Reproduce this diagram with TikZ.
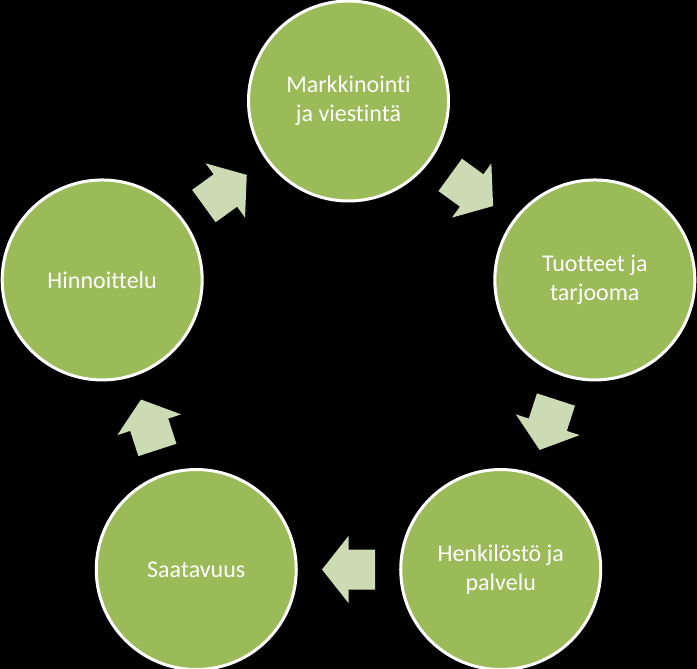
\documentclass[tikz,border=0pt]{standalone}
\usepackage{fontspec}
\setmainfont{Carlito}[Ligatures={NoCommon}]
\usetikzlibrary{calc}
\definecolor{cgreen}{HTML}{9BBB59}
\definecolor{agreen}{HTML}{CDDBB5}
\tikzset{
  stage/.style={circle, minimum size=200pt, inner sep=0pt, fill=cgreen, draw=white, line width=3pt,
    text=white, align=center, font=\fontsize{24}{28.8}\selectfont},
  blockarrow/.style={fill=agreen}
}
\newcommand{\cyclearrow}[2]{%
  \fill[blockarrow, shift={(#1)}, rotate=#2]
    (-26.5pt,20pt) -- (0pt,20pt) -- (0pt,33.5pt) -- (26.5pt,0pt) -- (0pt,-33.5pt) -- (0pt,-20pt) -- (-26.5pt,-20pt) -- cycle;}
\begin{document}
\begin{tikzpicture}[x=1pt,y=1pt]
  \fill[black] (0,0) rectangle (697,669);
  \useasboundingbox (0,0) rectangle (697,669);
  \coordinate (c) at (348.5,309);
  \node[stage] (top) at ($(c)+(90:259)$) {Markkinointi\\ja viestintä};
  \node[stage] (right) at ($(c)+(18:259)$) {Tuotteet ja\\tarjooma};
  \node[stage] (br) at ($(c)+(-54:259)$) {Henkilöstö ja\\palvelu};
  \node[stage] (bl) at ($(c)+(-126:259)$) {Saatavuus};
  \node[stage] (left) at ($(c)+(162:259)$) {Hinnoittelu};
  \coordinate (m1) at ($(top)!0.5!(right)$);
  \coordinate (m2) at ($(right)!0.5!(br)$);
  \coordinate (m3) at ($(br)!0.5!(bl)$);
  \coordinate (m4) at ($(bl)!0.5!(left)$);
  \coordinate (m5) at ($(left)!0.5!(top)$);
  \cyclearrow{m1}{-36}
  \cyclearrow{m2}{-108}
  \cyclearrow{m3}{180}
  \cyclearrow{m4}{108}
  \cyclearrow{m5}{36}
\end{tikzpicture}
\end{document}
